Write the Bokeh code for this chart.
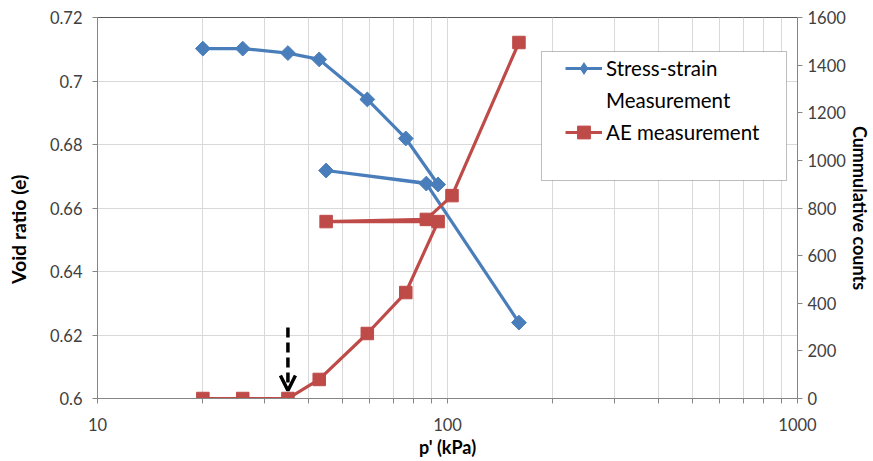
import numpy as np
from bokeh.plotting import figure
from bokeh.models import (Range1d, LinearAxis, FixedTicker, CustomJSTickFormatter,
                          Legend, LegendItem, BoxAnnotation, Arrow, OpenHead)
from bokeh.embed import file_html
from bokeh.resources import INLINE

# ---------------- data ----------------
ss_p = [20, 26, 35, 43, 59, 76, 94, 45, 87, 160]
ss_void = [0.7102, 0.7102, 0.7088, 0.7068, 0.6942, 0.6819, 0.6674, 0.6718, 0.6677, 0.6239]

ae_p = [20, 26, 35, 43, 59, 76, 94, 45, 87, 103, 160]
ae_counts = [0, 0, 0, 80, 273, 445, 743, 743, 752, 852, 1495]

x_major_ticks = [10, 100, 1000]
x_minor_ticks = [20, 30, 40, 50, 60, 70, 80, 90, 200, 300, 400, 500, 600, 700, 800, 900]
y_ticks = [0.6, 0.62, 0.64, 0.66, 0.68, 0.7, 0.72]
count_ticks = [0, 200, 400, 600, 800, 1000, 1200, 1400, 1600]

arrow_p = 35
arrow_top = 0.6224
arrow_tip = 0.6025

BLUE = "#4a7ebb"
RED = "#be4b48"
FONT = "Lato"
NBSP = "\u00a0"

p = figure(width=873, height=461, x_axis_type="log",
           x_range=Range1d(10, 1000), y_range=Range1d(0.6, 0.72),
           output_backend="svg", toolbar_location=None,
           min_border_left=97, min_border_right=75, min_border_top=17, min_border_bottom=63)
p.extra_y_ranges = {"counts": Range1d(0, 1600)}
p.outline_line_color = "#595959"
p.background_fill_color = "white"
p.border_fill_color = "white"

# x axis
xa = p.xaxis[0]
xa.ticker = FixedTicker(ticks=x_major_ticks, minor_ticks=x_minor_ticks)
xa.formatter = CustomJSTickFormatter(code="return tick.toFixed(0);")
xa.axis_label = "p' (kPa)"

# left axis
ya = p.yaxis[0]
ya.ticker = FixedTicker(ticks=y_ticks)
ya.formatter = CustomJSTickFormatter(code="return String(parseFloat(tick.toFixed(2)));")
ya.axis_label = "Void ratio (e)" + NBSP * 9

# right axis
ra = LinearAxis(y_range_name="counts", ticker=FixedTicker(ticks=count_ticks),
                axis_label="Cummulative counts")
p.add_layout(ra, "right")

for ax in (xa, ya, ra):
    ax.axis_line_color = "#868686"
    ax.major_tick_line_color = "#868686"
    ax.minor_tick_line_color = "#868686"
    ax.major_tick_in = 0
    ax.major_tick_out = 5
    ax.major_label_text_font = FONT
    ax.major_label_text_font_size = "16.5px"
    ax.major_label_text_color = "#404040"
    ax.axis_label_text_font = FONT
    ax.axis_label_text_font_style = "bold"
    ax.axis_label_text_color = "black"

xa.axis_label_text_font_size = "18px"
ya.axis_label_text_font_size = "19.5px"
ra.axis_label_text_font_size = "18px"

xa.minor_tick_in = 0
xa.minor_tick_out = 5
ya.minor_tick_line_color = None
ra.minor_tick_line_color = None
xa.major_label_standoff = 14
xa.axis_label_standoff = 2
ya.major_label_standoff = 10
ya.axis_label_standoff = 17
ra.major_label_standoff = 5
ra.axis_label_standoff = 0

p.xgrid.grid_line_color = "#d9d9d9"
p.xgrid.minor_grid_line_color = "#d9d9d9"
p.ygrid.grid_line_color = "#d9d9d9"

# series
bm_key = p.scatter(ss_p, ss_void, marker="diamond", size=0,
                   fill_color=BLUE, line_color=BLUE, line_alpha=0)
bl = p.line(ss_p, ss_void, line_color=BLUE, line_width=3.2)
bm = p.scatter(ss_p, ss_void, marker="square", angle=np.pi / 4, size=10.5,
               fill_color=BLUE, line_color=BLUE)
rl = p.line(ae_p, ae_counts, y_range_name="counts", line_color=RED, line_width=3.2)
rm = p.scatter(ae_p, ae_counts, y_range_name="counts", marker="square", size=12.5,
               fill_color=RED, line_color=RED)
dummy = p.line([], [], line_alpha=0)

# arrow
p.add_layout(Arrow(x_start=arrow_p, y_start=arrow_top, x_end=arrow_p, y_end=arrow_tip,
                   line_color="black", line_width=3.5, line_dash="10 5",
                   end=OpenHead(size=15, line_width=3.5, line_color="black")))

# legend frame
p.add_layout(BoxAnnotation(left=541, right=786, top=51, bottom=180,
                           left_units="canvas", right_units="canvas",
                           top_units="canvas", bottom_units="canvas",
                           fill_color="white", fill_alpha=1.0,
                           line_color="#262626", line_width=1))

legend = Legend(items=[
    LegendItem(label="Stress-strain", renderers=[bl, bm_key]),
    LegendItem(label="Measurement", renderers=[dummy]),
    LegendItem(label="AE measurement", renderers=[rl, rm]),
], location=(468, 250), padding=0, margin=0, spacing=0,
    glyph_width=37, glyph_height=32, label_height=32, label_standoff=4,
    label_text_font=FONT, label_text_font_size="20.5px", label_text_color="black",
    border_line_alpha=0, background_fill_alpha=0)
p.add_layout(legend, "center")

open("out.html", "w").write(file_html(p, INLINE))
